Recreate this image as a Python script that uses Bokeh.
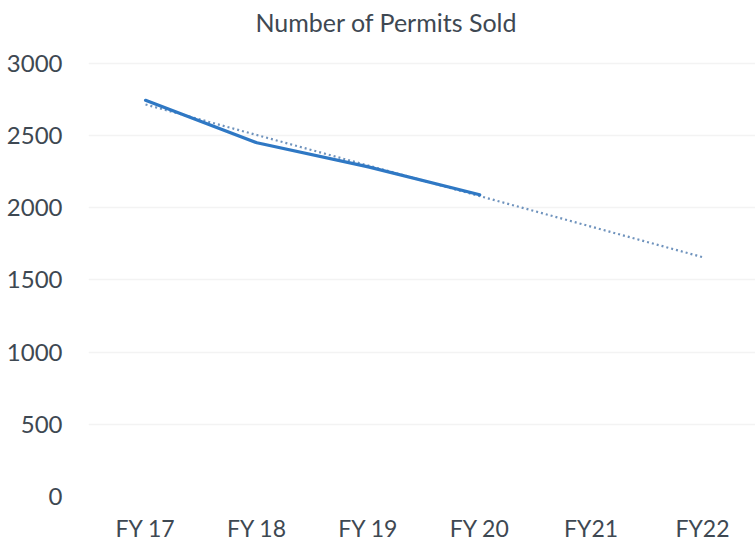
from bokeh.plotting import figure
from bokeh.models import FixedTicker, Range1d, Label
from bokeh.embed import file_html
from bokeh.resources import INLINE

title_text = "Number of Permits Sold"
categories = ["FY 17", "FY 18", "FY 19", "FY 20", "FY21", "FY22"]
permits = [2744, 2450, 2283, 2090]          # FY 17 .. FY 20
trend_cats = ["FY 17", "FY22"]
trend_vals = [2715, 1658]
y_ticks = [0, 500, 1000, 1500, 2000, 2500, 3000]

FONT = "Lato"
TXT = "#3e4852"

# layout (pixels): frame bottom at 497, value 3000 at 63, title centre at y=22, x=386
Y_TOP_TICK_PX, Y_ZERO_PX, TITLE_PX_Y = 63, 497, 22
px_per_val = (Y_ZERO_PX - Y_TOP_TICK_PX) / y_ticks[-1]
y_end = Y_ZERO_PX / px_per_val
title_y = (Y_ZERO_PX - TITLE_PX_Y) / px_per_val

idx = {c: i for i, c in enumerate(categories)}

p = figure(width=755, height=544, output_backend="svg", toolbar_location=None,
           x_range=Range1d(-0.512, 5.476), y_range=Range1d(0, y_end),
           min_border_left=88, min_border_right=0, min_border_top=0, min_border_bottom=47)
p.outline_line_color = None

title = Label(text=title_text, x=2.163, y=title_y,
              text_align="center", text_baseline="middle",
              text_font=FONT, text_font_size="25px", text_color=TXT)
p.add_layout(title)

p.line([idx[c] for c in trend_cats], trend_vals, line_color="#6f93bd",
       line_width=2.2, line_dash="2 3")
p.line([idx[c] for c in categories[:len(permits)]], permits,
       line_color="#2f78c4", line_width=3.2, line_join="round", line_cap="round")

p.xaxis.ticker = FixedTicker(ticks=list(range(len(categories))))
p.xaxis.major_label_overrides = {i: c for i, c in enumerate(categories)}
p.yaxis.ticker = FixedTicker(ticks=y_ticks)

for ax in (p.xaxis, p.yaxis):
    ax.axis_line_color = None
    ax.major_tick_line_color = None
    ax.minor_tick_line_color = None
    ax.major_tick_out = 0
    ax.major_tick_in = 0
    ax.minor_tick_out = 0
    ax.major_label_text_font = FONT
    ax.major_label_text_color = TXT
p.xaxis.major_label_text_font_size = "23px"
p.yaxis.major_label_text_font_size = "24px"
p.xaxis.major_label_standoff = 17
p.yaxis.major_label_standoff = 26

p.xgrid.grid_line_color = None
p.ygrid.grid_line_color = "#f3f3f3"
p.ygrid.grid_line_width = 1.5

open("out.html", "w").write(file_html(p, INLINE))
